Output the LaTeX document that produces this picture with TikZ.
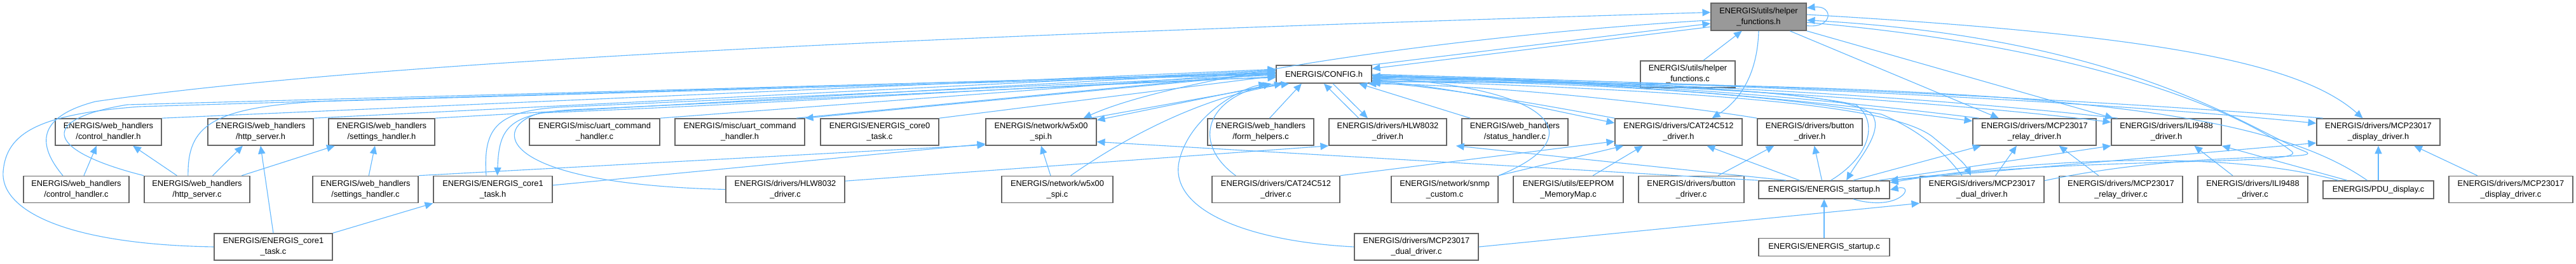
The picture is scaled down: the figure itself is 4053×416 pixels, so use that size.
\documentclass[tikz,border=0pt]{standalone}
\usepackage{fontspec}
\setmainfont{Liberation Sans}
\usetikzlibrary{arrows.meta}
\definecolor{edgeblue}{HTML}{63B8FF}
\definecolor{nodeframe}{HTML}{666666}
\definecolor{focusfill}{HTML}{999999}

\begin{document}
\begin{tikzpicture}[x=0.01cm,y=-0.01cm,font=\fontsize{3.65}{4.8}\selectfont,
  file/.style={draw=nodeframe,fill=white,line width=0.45pt,align=center,inner sep=0pt,minimum height=0.42cm},
  flat/.style={minimum height=0.28cm},
  focus/.style={file,fill=focusfill},
  dep/.style={draw=edgeblue,line width=0.32pt,-{Triangle[length=3.6pt,width=3.2pt]}}]
  \useasboundingbox (0,0) rectangle (4053,416);
  % --- top: the file itself and CONFIG.h ---
  \node[focus,minimum width=1.50cm,minimum height=0.43cm] (hfh) at (2767,26.5) {ENERGIS/utils/helper\\\_functions.h};
  \node[file,flat,minimum width=1.50cm] (config) at (2083,117) {ENERGIS/CONFIG.h};
  \node[file,minimum width=1.49cm] (hfc) at (2655.5,117) {ENERGIS/utils/helper\\\_functions.c};
  % --- headers and sources, second row ---
  \node[file,minimum width=1.67cm] (ctrlh) at (170.5,208) {ENERGIS/web\_handlers\\/control\_handler.h};
  \node[file,minimum width=1.66cm] (httph) at (410,208) {ENERGIS/web\_handlers\\/http\_server.h};
  \node[file,minimum width=1.67cm] (setth) at (600.5,208) {ENERGIS/web\_handlers\\/settings\_handler.h};
  \node[file,minimum width=2.05cm] (uartc) at (935.5,208) {ENERGIS/misc/uart\_command\\\_handler.c};
  \node[file,minimum width=2.04cm] (uarth) at (1164,208) {ENERGIS/misc/uart\_command\\\_handler.h};
  \node[file,minimum width=1.86cm] (core0c) at (1384,208) {ENERGIS/ENERGIS\_core0\\\_task.c};
  \node[file,minimum width=1.74cm] (w5h) at (1638,208) {ENERGIS/network/w5x00\\\_spi.h};
  \node[file,minimum width=1.67cm] (formc) at (1983.5,208) {ENERGIS/web\_handlers\\/form\_helpers.c};
  \node[file,minimum width=1.85cm] (hlwh) at (2183.5,208) {ENERGIS/drivers/HLW8032\\\_driver.h};
  \node[file,minimum width=1.67cm] (statc) at (2383.5,208) {ENERGIS/web\_handlers\\/status\_handler.c};
  \node[file,minimum width=2.00cm] (cath) at (2641,208) {ENERGIS/drivers/CAT24C512\\\_driver.h};
  \node[file,minimum width=1.65cm] (btnh) at (2847.5,208) {ENERGIS/drivers/button\\\_driver.h};
  \node[file,minimum width=1.94cm] (relayh) at (3201,208) {ENERGIS/drivers/MCP23017\\\_relay\_driver.h};
  \node[file,minimum width=1.73cm] (ilih) at (3408.5,208) {ENERGIS/drivers/ILI9488\\\_driver.h};
  \node[file,minimum width=1.94cm] (disph) at (3742,208) {ENERGIS/drivers/MCP23017\\\_display\_driver.h};
  % --- third row ---
  \node[file,minimum width=1.66cm] (ctrlc) at (120,298.5) {ENERGIS/web\_handlers\\/control\_handler.c};
  \node[file,minimum width=1.66cm] (httpc) at (310,298.5) {ENERGIS/web\_handlers\\/http\_server.c};
  \node[file,minimum width=1.66cm] (settc) at (575,298.5) {ENERGIS/web\_handlers\\/settings\_handler.c};
  \node[file,minimum width=1.87cm] (core1h) at (775.5,298.5) {ENERGIS/ENERGIS\_core1\\\_task.h};
  \node[file,minimum width=1.87cm] (hlwc) at (1235.5,298.5) {ENERGIS/drivers/HLW8032\\\_driver.c};
  \node[file,minimum width=1.75cm] (w5c) at (1663.5,298.5) {ENERGIS/network/w5x00\\\_spi.c};
  \node[file,minimum width=2.01cm] (catc) at (2007.5,298.5) {ENERGIS/drivers/CAT24C512\\\_driver.c};
  \node[file,minimum width=1.68cm] (snmpc) at (2273,298.5) {ENERGIS/network/snmp\\\_custom.c};
  \node[file,minimum width=1.73cm] (eepc) at (2467.5,298.5) {ENERGIS/utils/EEPROM\\\_MemoryMap.c};
  \node[file,minimum width=1.66cm] (btnc) at (2661,298.5) {ENERGIS/drivers/button\\\_driver.c};
  \node[file,flat,minimum width=2.06cm] (starth) at (2870,299) {ENERGIS/ENERGIS\_startup.h};
  \node[file,minimum width=1.95cm] (dualh) at (3118.5,298.5) {ENERGIS/drivers/MCP23017\\\_dual\_driver.h};
  \node[file,minimum width=1.94cm] (relayc) at (3337,298.5) {ENERGIS/drivers/MCP23017\\\_relay\_driver.c};
  \node[file,minimum width=1.73cm] (ilic) at (3544.5,298.5) {ENERGIS/drivers/ILI9488\\\_driver.c};
  \node[file,flat,minimum width=1.74cm] (pduc) at (3742,299) {ENERGIS/PDU\_display.c};
  \node[file,minimum width=1.95cm] (dispc) at (3950.5,298.5) {ENERGIS/drivers/MCP23017\\\_display\_driver.c};
  % --- bottom row ---
  \node[file,minimum width=1.86cm] (core1c) at (430,389) {ENERGIS/ENERGIS\_core1\\\_task.c};
  \node[file,minimum width=1.95cm] (dualc) at (2228.5,389) {ENERGIS/drivers/MCP23017\\\_dual\_driver.c};
  \node[file,flat,minimum width=2.06cm] (startc) at (2870,389.5) {ENERGIS/ENERGIS\_startup.c};

  % --- edges at helper_functions.h ---
  \draw[dep] (config.north east) -- ([yshift=-3pt]hfh.west);
  \draw[dep] ([yshift=-4.5pt]hfh.west) -- ([yshift=2.5pt]config.east);
  \draw[dep] ([xshift=7pt]hfc.north) -- ([xshift=-7.5pt]hfh.south);
  \draw[dep] ([yshift=-4pt]hfh.east) .. controls (2885,45) and (2885,8) .. ([yshift=4pt]hfh.east);
  \draw[dep] ([xshift=-6pt]ctrlc.north) .. controls (60,230) and (55,185) .. (150,160) .. controls (600,95) and (1500,55) .. ([yshift=2pt]hfh.west);
  \draw[dep] (dualh.8) .. controls (3450,235) and (3670,255) .. (3625,238) .. controls (3540,205) and (3350,60) .. ([yshift=-1.5pt]hfh.east);
  \draw[dep] ([yshift=-2.5pt]hfh.east) .. controls (3300,75) and (3530,180) .. (3605,238) .. controls (3640,262) and (3300,245) .. (starth.north east);
  \draw[dep] ([yshift=1pt]hfh.east) .. controls (3400,55) and (3620,100) .. ([xshift=-7pt]disph.north);
  \draw[dep] (hfh.south) .. controls (2765,120) and (2735,160) .. ([xshift=15pt]cath.north);
  \draw[dep] ([xshift=14pt]hfh.south) -- ([xshift=-16pt]relayh.north);
  \draw[dep] (hfh.south east) -- ([xshift=1pt]ilih.north west);
  \draw[dep] ([yshift=-1.5pt]hfh.west) .. controls (2300,55) and (1850,120) .. ([xshift=-6pt]w5h.north east);

  % --- into CONFIG.h from the left ---
  \draw[dep] (ctrlh.north east) -- (config.174);
  \draw[dep] (httph.north east) -- (config.175);
  \draw[dep] (setth.north east) -- (config.176);
  \draw[dep] (uartc.north east) -- (config.177);
  \draw[dep] ([xshift=-4pt]uarth.north east) -- (config.178);
  \draw[dep] (config.179) -- (uarth.north east);
  \draw[dep] (core0c.north east) -- (config.182);
  \draw[dep] ([xshift=-3pt]core1h.north) .. controls (760,200) and (780,172) .. (900,168) -- (config.181);
  \draw[dep] (config.183) -- (920,172) .. controls (800,176) and (785,200) .. ([xshift=2pt]core1h.north);
  \draw[dep] (hlwc.west) .. controls (780,290) and (770,200) .. (850,178) .. controls (1300,160) and (1700,130) .. (config.184);
  \draw[dep] ([xshift=-4pt]httpc.north) .. controls (295,200) and (330,170) .. (500,160) -- (config.180);
  \draw[dep] (httpc.north west) .. controls (80,240) and (50,190) .. (200,165) -- (config.179);
  \draw[dep] (core1c.west) .. controls (100,385) and (0,330) .. (5,270) .. controls (10,210) and (60,180) .. (220,168) -- (config.178);
  \draw[dep] (settc.north east) -- (w5h.193);
  \draw[dep] (core1h.4) -- (w5h.192);
  \draw[dep] (config.south west) -- (w5h.12);
  \draw[dep] ([xshift=-3pt]w5h.north east) -- ([xshift=3pt]config.south west);
  \draw[dep] ([xshift=-3pt]w5c.north) -- (w5h.south);
  \draw[dep] ([xshift=6pt]w5c.north) .. controls (1780,210) and (1900,150) .. ([xshift=6pt]config.south west);
  \draw[dep] ([xshift=4pt]formc.north) -- ([xshift=-10pt]config.south);
  \draw[dep] ([xshift=-13pt]hlwh.north) -- (config.south);
  \draw[dep] ([xshift=4pt]config.south) -- ([xshift=-9pt]hlwh.north);
  \draw[dep] ([xshift=-20pt]statc.north) -- (config.-15);
  \draw[dep] ([xshift=-18pt]catc.north) .. controls (1880,230) and (1890,160) .. ([xshift=-2pt]config.south west);
  \draw[dep] (dualc.west) .. controls (1960,380) and (1840,330) .. (1855,255) .. controls (1870,185) and (1950,140) .. ([xshift=-4pt]config.south west);
  \draw[dep] (snmpc.north east) .. controls (2500,220) and (2460,140) .. ([yshift=-1.5pt]config.east);

  % --- CONFIG.h and the drivers on the right ---
  \draw[dep] (config.-2) .. controls (2600,130) and (2900,165) .. (relayh.170);
  \draw[dep] ([xshift=3pt]relayh.north west) .. controls (2900,160) and (2600,128) .. (config.-4);
  \draw[dep] (config.-1) .. controls (2700,135) and (3100,165) .. (ilih.170);
  \draw[dep] ([xshift=3pt]ilih.north west) .. controls (3100,160) and (2700,130) .. (config.-3);
  \draw[dep] (config.0) .. controls (2800,135) and (3300,160) .. (disph.172);
  \draw[dep] ([xshift=3pt]disph.north west) .. controls (3300,158) and (2800,132) .. (config.-2);
  \draw[dep] (config.-5) .. controls (2600,135) and (2900,140) .. (2945,180) .. controls (2965,205) and (2925,250) .. ([xshift=10pt]starth.north);
  \draw[dep] ([xshift=3pt]starth.north) .. controls (2945,245) and (2955,190) .. (2920,165) .. controls (2800,140) and (2500,125) .. (config.-6);
  \draw[dep] (config.-7) .. controls (2750,145) and (2980,170) .. (3040,215) .. controls (3070,240) and (3090,255) .. ([xshift=-5pt]dualh.north);
  \draw[dep] ([xshift=-9pt]dualh.north) .. controls (3060,240) and (3020,205) .. (2960,180) .. controls (2800,150) and (2500,128) .. (config.-8);
  \draw[dep] ([xshift=-5pt]pduc.north) .. controls (3560,170) and (3200,130) .. (config.-9);
  \draw[dep] (btnh.north west) .. controls (2700,175) and (2400,135) .. (config.-12);
  \draw[dep] (cath.north west) .. controls (2400,160) and (2250,135) .. (config.-10);
  \draw[dep] (config.-9) .. controls (2250,130) and (2400,165) .. (cath.172);

  % --- sources to their headers ---
  \draw[dep] ([xshift=3.4pt]ctrlc.north) -- ([xshift=-5.3pt]ctrlh.south);
  \draw[dep] ([xshift=-9pt]httpc.north) -- ([xshift=11pt]ctrlh.south);
  \draw[dep] ([xshift=7pt]httpc.north) -- ([xshift=-8pt]httph.south);
  \draw[dep] ([xshift=20pt]httpc.north) -- ([xshift=-21pt]setth.south);
  \draw[dep] (core1c.north) -- (httph.south);
  \draw[dep] (core1c.north east) -- (core1h.south west);
  \draw[dep] ([xshift=1.5pt]settc.north) -- ([xshift=-3pt]setth.south);
  \draw[dep] (hlwc.8) -- (hlwh.south west);
  \draw[dep] (catc.north east) -- ([yshift=2pt]cath.south west);
  \draw[dep] (snmpc.north east) -- ([xshift=4pt]cath.south west);
  \draw[dep] ([xshift=11pt]eepc.north) -- ([xshift=-16pt]cath.south);
  \draw[dep] ([xshift=-11pt]starth.north) -- ([xshift=-16pt]cath.south east);
  \draw[dep] ([xshift=12pt]btnc.north) -- ([xshift=-16pt]btnh.south);
  \draw[dep] ([xshift=-1pt]starth.north) -- ([xshift=2pt]btnh.south);
  \draw[dep] ([xshift=-17pt]starth.north) -- ([xshift=4pt]hlwh.south east);
  \draw[dep] (starth.north west) -- (w5h.-10);
  \draw[dep] ([xshift=13pt]starth.north) -- ([xshift=-24pt]relayh.south);
  \draw[dep] ([xshift=-5pt]starth.north east) -- (ilih.south west);
  \draw[dep] (starth.north east) -- (disph.190);
  \draw[dep] ([xshift=6pt]dualh.north) -- ([xshift=-8pt]relayh.south);
  \draw[dep] ([xshift=-10pt]relayc.north) -- ([xshift=11pt]relayh.south);
  \draw[dep] ([xshift=-9pt]ilic.north) -- ([xshift=12.5pt]ilih.south);
  \draw[dep] ([xshift=-14pt]pduc.north) -- (ilih.south east);
  \draw[dep] (pduc.north) -- (disph.south);
  \draw[dep] ([xshift=-15pt]dispc.north) -- ([xshift=16pt]disph.south);
  \draw[dep] ([xshift=-18pt]pduc.north) .. controls (3500,235) and (3200,250) .. ([yshift=-1pt]starth.north east);
  \draw[dep] (startc.north) -- (starth.south);
  \draw[dep] ([xshift=13pt]starth.south) .. controls (2990,335) and (3015,290) .. (starth.east);
  \draw[dep] (dualc.east) -- (dualh.south west);
\end{tikzpicture}
\end{document}
